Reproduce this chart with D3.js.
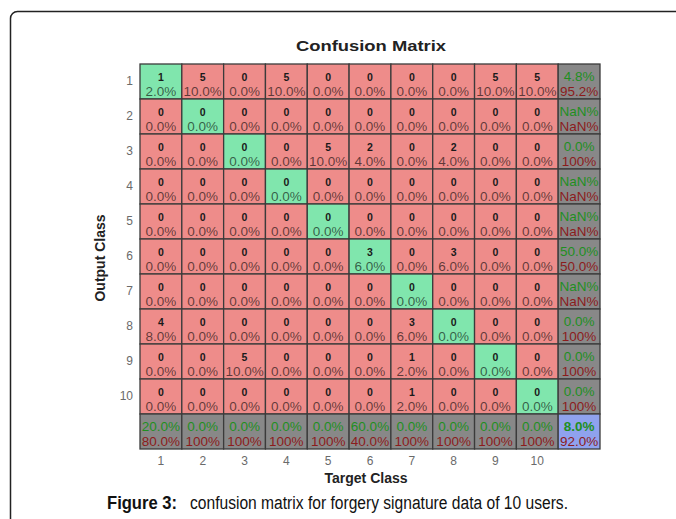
<!DOCTYPE html>
<html>
<head>
<meta charset="utf-8">
<script src="https://cdn.jsdelivr.net/npm/d3@7"></script>
<style>
  html, body { margin: 0; padding: 0; background: #fff; }
  svg { display: block; }
  text { font-family: "Liberation Sans", Arial, sans-serif; }
</style>
</head>
<body>
<svg id="chart" width="676" height="519"></svg>
<script>
// ---- data ----
const outputClasses = ["1","2","3","4","5","6","7","8","9","10"];
const targetClasses = ["1","2","3","4","5","6","7","8","9","10"];
// counts[row = output class][col = target class]
const row1  = [1,5,0,5,0,0,0,0,5,5];
const row2  = [0,0,0,0,0,0,0,0,0,0];
const row3  = [0,0,0,0,5,2,0,2,0,0];
const row4  = [0,0,0,0,0,0,0,0,0,0];
const row5  = [0,0,0,0,0,0,0,0,0,0];
const row6  = [0,0,0,0,0,3,0,3,0,0];
const row7  = [0,0,0,0,0,0,0,0,0,0];
const row8  = [4,0,0,0,0,0,3,0,0,0];
const row9  = [0,0,5,0,0,0,1,0,0,0];
const row10 = [0,0,0,0,0,0,1,0,0,0];
const counts = [row1,row2,row3,row4,row5,row6,row7,row8,row9,row10];
const titleText = "Confusion Matrix";
const xTitle = "Target Class";
const yTitle = "Output Class";
const captionBold = "Figure 3:";
const captionRest = "confusion matrix for forgery signature data of 10 users.";

// ---- helpers ----
const total = d3.sum(counts.flat());
function fmt(p) {
  if (!isFinite(p)) return "NaN%";
  if (Math.abs(p - 100) < 1e-9) return "100%";
  return p.toFixed(1) + "%";
}

const svg = d3.select("#chart");
const colors = {
  green: "#80e6ad",
  red: "#ee8c8a",
  gray: "#888888",
  blue: "#8fa2ee",
  border: "#3b3b3b",
  good: "#1f8f1f",
  bad: "#8c1c1c"
};

// frame
svg.append("rect")
  .attr("x", 10.5).attr("y", 11.5)
  .attr("width", 720).attr("height", 560)
  .attr("rx", 7).attr("ry", 7)
  .attr("fill", "none").attr("stroke", "#222").attr("stroke-width", 1.5);

const allKey = "all";
const x = d3.scaleBand().domain([...targetClasses, allKey]).range([140, 600]);
const y = d3.scaleBand().domain([...outputClasses, allKey]).range([64, 449]);
const cw = x.bandwidth(), ch = y.bandwidth();

// build cells
const cells = [];
outputClasses.forEach((r, i) => {
  targetClasses.forEach((c, j) => {
    const v = counts[i][j];
    cells.push({ r, c, type: i === j ? "diag" : "off",
      top: String(v), bottom: fmt(100 * v / total) });
  });
  const rs = d3.sum(counts[i]);
  const pc = 100 * counts[i][i] / rs;
  cells.push({ r, c: allKey, type: "sum", top: fmt(pc), bottom: fmt(100 - pc) });
});
targetClasses.forEach((c, j) => {
  const cs = d3.sum(counts, row => row[j]);
  const pc = 100 * counts[j][j] / cs;
  cells.push({ r: allKey, c, type: "sum", top: fmt(pc), bottom: fmt(100 - pc) });
});
{
  const correct = d3.sum(counts, (row, i) => row[i]);
  const pc = 100 * correct / total;
  cells.push({ r: allKey, c: allKey, type: "corner", top: fmt(pc), bottom: fmt(100 - pc) });
}

const g = svg.append("g");
const cellG = g.selectAll("g.cell").data(cells).join("g")
  .attr("class", "cell")
  .attr("transform", d => `translate(${x(d.c)},${y(d.r)})`);

cellG.append("rect")
  .attr("width", cw).attr("height", ch)
  .attr("fill", d => d.type === "diag" ? colors.green : d.type === "off" ? colors.red
        : d.type === "sum" ? colors.gray : colors.blue)
  .attr("stroke", colors.border).attr("stroke-width", 1.3);

// count / percent texts
cellG.filter(d => d.type === "diag" || d.type === "off").append("text")
  .attr("x", cw / 2).attr("y", 13)
  .attr("text-anchor", "middle").attr("dominant-baseline", "central")
  .attr("font-size", 10.5).attr("font-weight", "bold").attr("fill", "#1a1a1a")
  .text(d => d.top);
cellG.filter(d => d.type === "diag" || d.type === "off").append("text")
  .attr("x", cw / 2).attr("y", 27)
  .attr("text-anchor", "middle").attr("dominant-baseline", "central")
  .attr("font-size", 13.5).attr("fill", "#000").attr("fill-opacity", 0.6)
  .text(d => d.bottom);

cellG.filter(d => d.type === "sum" || d.type === "corner").append("text")
  .attr("x", cw / 2).attr("y", 12)
  .attr("text-anchor", "middle").attr("dominant-baseline", "central")
  .attr("font-size", 13.5).attr("font-weight", d => d.type === "corner" ? "bold" : "normal")
  .attr("fill", colors.good)
  .text(d => d.top);
cellG.filter(d => d.type === "sum" || d.type === "corner").append("text")
  .attr("x", cw / 2).attr("y", 27)
  .attr("text-anchor", "middle").attr("dominant-baseline", "central")
  .attr("font-size", 13.5).attr("fill", colors.bad)
  .text(d => d.bottom);

// axes
const yAxis = d3.axisLeft(y).tickValues(outputClasses).tickSize(0).tickPadding(7);
const yg = svg.append("g").attr("transform", "translate(140,0)").call(yAxis);
const xAxis = d3.axisBottom(x).tickValues(targetClasses).tickSize(0).tickPadding(7);
const xg = svg.append("g").attr("transform", "translate(0,449)").call(xAxis);
[yg, xg].forEach(a => {
  a.select(".domain").remove();
  a.selectAll("text").attr("font-size", 12).attr("fill", "#6a6a6a")
    .attr("font-family", "Liberation Sans, Arial, sans-serif");
});

// titles
svg.append("text")
  .attr("x", 371).attr("y", 51)
  .attr("text-anchor", "middle").attr("font-size", 15).attr("font-weight", "bold")
  .attr("fill", "#222")
  .attr("textLength", 150).attr("lengthAdjust", "spacingAndGlyphs")
  .text(titleText);
svg.append("text")
  .attr("x", 366).attr("y", 483)
  .attr("text-anchor", "middle").attr("font-size", 14).attr("font-weight", "bold")
  .attr("fill", "#222")
  .text(xTitle);
svg.append("text")
  .attr("transform", "translate(105,258) rotate(-90)")
  .attr("text-anchor", "middle").attr("font-size", 14).attr("font-weight", "bold")
  .attr("fill", "#222")
  .text(yTitle);

// caption
svg.append("text")
  .attr("x", 107).attr("y", 509)
  .attr("font-size", 18).attr("font-weight", "bold").attr("fill", "#111")
  .attr("textLength", 70).attr("lengthAdjust", "spacingAndGlyphs")
  .text(captionBold);
svg.append("text")
  .attr("x", 190).attr("y", 509)
  .attr("font-size", 18).attr("fill", "#111")
  .attr("textLength", 378).attr("lengthAdjust", "spacingAndGlyphs")
  .text(captionRest);
</script>
</body>
</html>
